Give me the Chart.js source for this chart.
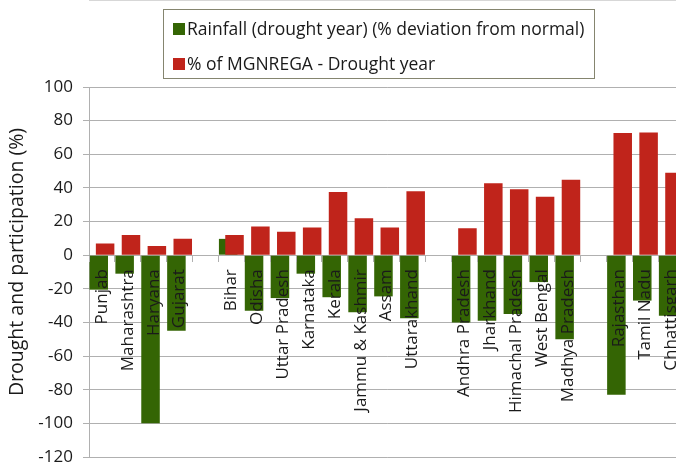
<!DOCTYPE html>
<html>
<head>
<meta charset="utf-8">
<script src="https://cdn.jsdelivr.net/npm/chart.js@4.4.1/dist/chart.umd.min.js"></script>
<style>
  html, body { margin: 0; padding: 0; overflow: hidden; background: #fff; }
</style>
</head>
<body>
<canvas id="drought-chart" width="700" height="465"></canvas>
<script>
// states, grouped by region; '' = empty gap column between the groups
var states = ['Punjab', 'Maharashtra', 'Haryana', 'Gujarat', '',
    'Bihar', 'Odisha', 'Uttar Pradesh', 'Karnataka', 'Kerala', 'Jammu & Kashmir', 'Assam', 'Uttarakhand', '',
    'Andhra Pradesh', 'Jharkhand', 'Himachal Pradesh', 'West Bengal', 'Madhya Pradesh', '',
    'Rajasthan', 'Tamil Nadu', 'Chhattisgarh'];

// rainfall in drought year, % deviation from normal
var rainfall = [-20.5, -11, -100, -45, null,
    9.7, -33, -25.5, -11, -25, -34, -24.5, -37.5, null,
    -40, -39, -35, -16, -50, null,
    -83, -27, -36];

// % of MGNREGA participation in drought year
var mgnrega = [7, 12, 5.5, 9.7, null,
    12, 17, 14, 16.5, 37.5, 22, 16.5, 38, null,
    16, 42.7, 39.2, 34.7, 44.8, null,
    72.7, 73, 49];

var yMin = -120;
var yMax = 100;
var yStep = 20;
var yTitleText = 'Drought and participation (%)';

var FONT = '"Open Sans", "DejaVu Sans", sans-serif';
var GREEN = '#346504';
var RED = '#c0241b';
var GRID = '#b0b0b0';

// legend in a framed box, two rows, like the original
var boxLegend = {
    id: 'boxLegend',
    afterDraw: function(chart) {
        var ctx = chart.ctx;
        ctx.save();
        ctx.strokeStyle = '#85856f';
        ctx.lineWidth = 1;
        ctx.strokeRect(163.5, 9.5, 431, 69);
        ctx.font = '17.5px ' + FONT;
        ctx.textBaseline = 'middle';
        chart.data.datasets.forEach(function(ds, i) {
            var y = 29 + i * 35;
            ctx.fillStyle = ds.backgroundColor;
            ctx.fillRect(173, y - 6, 12, 12);
            ctx.fillStyle = '#1a1a1a';
            ctx.fillText(ds.label, 187, y + 1);
        });

        // y axis title, sits a bit above the middle of the plot in the original
        ctx.translate(17, 262);
        ctx.rotate(-Math.PI / 2);
        ctx.textAlign = 'center';
        ctx.font = '19.5px ' + FONT;
        ctx.fillText(yTitleText, 0, 0);
        ctx.restore();
    }
};

// rainfall bars sit left in each column but are painted under the red ones
var greenFirst = {
    id: 'greenFirst',
    beforeDatasetsDraw: function(chart) {
        chart.getDatasetMeta(0).controller.draw();
    },
    beforeDatasetDraw: function(chart, args) {
        if (args.index === 0) {
            return false;
        }
    }
};

var chart;
function initChart() {
    var canvas = document.getElementById('drought-chart');

    chart = new Chart(canvas, {
        type: 'bar',
        data: {
            labels: states,
            datasets: [{
                label: 'Rainfall (drought year) (% deviation from normal)',
                data: rainfall,
                backgroundColor: GREEN
            }, {
                label: '% of MGNREGA - Drought year',
                data: mgnrega,
                backgroundColor: RED
            }]
        },
        options: {
            responsive: false,
            devicePixelRatio: 1,
            animation: false,
            categoryPercentage: 0.49,
            barPercentage: 2.92,
            layout: {
                padding: { top: 87, right: 13, bottom: 8, left: 0 }
            },
            plugins: {
                legend: { display: false },
                tooltip: { enabled: false }
            },
            scales: {
                x: {
                    position: { y: 0 },
                    afterFit: function(scale) {
                        scale.paddingTop = 0;
                        scale.paddingBottom = 0;
                    },
                    grid: {
                        offset: true,
                        drawOnChartArea: false,
                        tickLength: 6,
                        color: GRID,
                        z: 1
                    },
                    border: { color: GRID },
                    ticks: {
                        autoSkip: false,
                        minRotation: 90,
                        maxRotation: 90,
                        padding: 8,
                        color: '#1a1a1a',
                        font: { family: FONT, size: 17 },
                        z: 1
                    }
                },
                y: {
                    min: yMin,
                    max: yMax,
                    afterFit: function(scale) {
                        scale.width = 89;
                        scale.paddingTop = 0;
                        scale.paddingBottom = 0;
                    },
                    grid: {
                        color: GRID,
                        tickLength: 6
                    },
                    border: { color: GRID },
                    ticks: {
                        stepSize: yStep,
                        padding: 10,
                        color: '#1a1a1a',
                        font: { family: FONT, size: 17 }
                    }
                }
            }
        },
        plugins: [greenFirst, boxLegend]
    });
}

document.addEventListener('DOMContentLoaded', function() {
    initChart();
});
</script>
</body>
</html>
